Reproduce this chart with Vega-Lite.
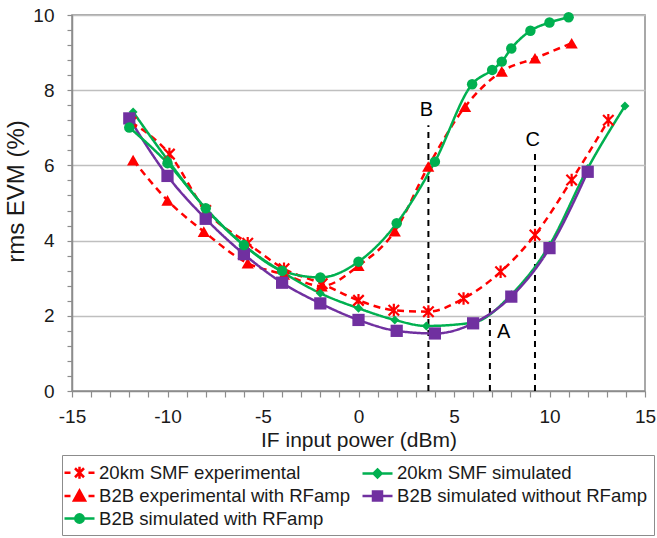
{
  "$schema": "https://vega.github.io/schema/vega-lite/v6.json",
  "width": 573,
  "height": 376,
  "autosize": {"type": "none"},
  "padding": {"left": 72, "top": 15, "right": 12, "bottom": 147},
  "config": {
    "font": "Liberation Sans",
    "view": {"stroke": "#8c8c8c", "strokeWidth": 1.5},
    "axis": {"domainColor": "#8c8c8c", "domainWidth": 1.5, "tickColor": "#8c8c8c", "tickWidth": 1.2, "labelColor": "#1a1a1a", "titleColor": "#1a1a1a", "labelFont": "Liberation Sans", "titleFont": "Liberation Sans", "titleFontWeight": "normal", "labelOverlap": false, "labelFlush": false}
  },
  "datasets": {
    "pts": [
      {"s": "20km SMF experimental", "x": -11.9, "y": 7.15},
      {"s": "20km SMF experimental", "x": -9.9, "y": 6.3},
      {"s": "20km SMF experimental", "x": -8, "y": 4.8},
      {"s": "20km SMF experimental", "x": -5.8, "y": 3.93},
      {"s": "20km SMF experimental", "x": -3.9, "y": 3.25},
      {"s": "20km SMF experimental", "x": -1.9, "y": 2.85},
      {"s": "20km SMF experimental", "x": 0, "y": 2.41},
      {"s": "20km SMF experimental", "x": 1.85, "y": 2.15},
      {"s": "20km SMF experimental", "x": 3.66, "y": 2.11},
      {"s": "20km SMF experimental", "x": 5.5, "y": 2.46},
      {"s": "20km SMF experimental", "x": 7.44, "y": 3.17},
      {"s": "20km SMF experimental", "x": 9.24, "y": 4.15},
      {"s": "20km SMF experimental", "x": 11.16, "y": 5.61},
      {"s": "20km SMF experimental", "x": 13.08, "y": 7.2},
      {"s": "B2B experimental with RFamp", "x": -11.8, "y": 6.14},
      {"s": "B2B experimental with RFamp", "x": -10, "y": 5.07},
      {"s": "B2B experimental with RFamp", "x": -8.1, "y": 4.24},
      {"s": "B2B experimental with RFamp", "x": -5.8, "y": 3.4},
      {"s": "B2B experimental with RFamp", "x": -3.9, "y": 3.1},
      {"s": "B2B experimental with RFamp", "x": -1.93, "y": 2.79},
      {"s": "B2B experimental with RFamp", "x": 0, "y": 3.33},
      {"s": "B2B experimental with RFamp", "x": 1.9, "y": 4.25},
      {"s": "B2B experimental with RFamp", "x": 3.65, "y": 5.97},
      {"s": "B2B experimental with RFamp", "x": 5.58, "y": 7.56},
      {"s": "B2B experimental with RFamp", "x": 7.5, "y": 8.5},
      {"s": "B2B experimental with RFamp", "x": 9.24, "y": 8.85},
      {"s": "B2B experimental with RFamp", "x": 11.16, "y": 9.25},
      {"s": "20km SMF simulated", "x": -11.8, "y": 7.42},
      {"s": "20km SMF simulated", "x": -10, "y": 6.15},
      {"s": "20km SMF simulated", "x": -8, "y": 4.85},
      {"s": "20km SMF simulated", "x": -6, "y": 3.88},
      {"s": "20km SMF simulated", "x": -4, "y": 3.17},
      {"s": "20km SMF simulated", "x": -2, "y": 2.6},
      {"s": "20km SMF simulated", "x": 0, "y": 2.2},
      {"s": "20km SMF simulated", "x": 1.9, "y": 1.89},
      {"s": "20km SMF simulated", "x": 3.55, "y": 1.73},
      {"s": "20km SMF simulated", "x": 6, "y": 1.82},
      {"s": "20km SMF simulated", "x": 8, "y": 2.56},
      {"s": "20km SMF simulated", "x": 10, "y": 3.88},
      {"s": "20km SMF simulated", "x": 12, "y": 5.92},
      {"s": "20km SMF simulated", "x": 13.95, "y": 7.58},
      {"s": "B2B simulated without RFamp", "x": -12, "y": 7.25},
      {"s": "B2B simulated without RFamp", "x": -10, "y": 5.72},
      {"s": "B2B simulated without RFamp", "x": -8, "y": 4.58},
      {"s": "B2B simulated without RFamp", "x": -6, "y": 3.64},
      {"s": "B2B simulated without RFamp", "x": -4, "y": 2.88},
      {"s": "B2B simulated without RFamp", "x": -2, "y": 2.33},
      {"s": "B2B simulated without RFamp", "x": 0, "y": 1.89},
      {"s": "B2B simulated without RFamp", "x": 2, "y": 1.6},
      {"s": "B2B simulated without RFamp", "x": 4, "y": 1.53},
      {"s": "B2B simulated without RFamp", "x": 6, "y": 1.8},
      {"s": "B2B simulated without RFamp", "x": 8, "y": 2.51},
      {"s": "B2B simulated without RFamp", "x": 10, "y": 3.8},
      {"s": "B2B simulated without RFamp", "x": 12, "y": 5.83},
      {"s": "B2B simulated with RFamp", "x": -12, "y": 7.01},
      {"s": "B2B simulated with RFamp", "x": -10, "y": 6.06},
      {"s": "B2B simulated with RFamp", "x": -8, "y": 4.86},
      {"s": "B2B simulated with RFamp", "x": -6, "y": 3.88},
      {"s": "B2B simulated with RFamp", "x": -4, "y": 3.2},
      {"s": "B2B simulated with RFamp", "x": -2, "y": 3.02},
      {"s": "B2B simulated with RFamp", "x": 0, "y": 3.44},
      {"s": "B2B simulated with RFamp", "x": 2, "y": 4.46},
      {"s": "B2B simulated with RFamp", "x": 4, "y": 6.1},
      {"s": "B2B simulated with RFamp", "x": 5.95, "y": 8.16},
      {"s": "B2B simulated with RFamp", "x": 7, "y": 8.54},
      {"s": "B2B simulated with RFamp", "x": 7.5, "y": 8.76},
      {"s": "B2B simulated with RFamp", "x": 8, "y": 9.11},
      {"s": "B2B simulated with RFamp", "x": 9, "y": 9.58},
      {"s": "B2B simulated with RFamp", "x": 10, "y": 9.8},
      {"s": "B2B simulated with RFamp", "x": 11, "y": 9.94}
    ],
    "marks": [
      {"lab": "B", "x": 3.66, "bot": 0, "top": 7.07, "lx": 3.55, "ly": 7.47},
      {"lab": "A", "x": 6.88, "bot": 0, "top": 2.6, "lx": 7.6, "ly": 1.58},
      {"lab": "C", "x": 9.24, "bot": 0, "top": 6.36, "lx": 9.12, "ly": 6.68}
    ]
  },
  "layer": [
    {
      "data": {"name": "marks"},
      "mark": {"type": "rule", "color": "black", "strokeWidth": 2, "strokeDash": [6, 5]},
      "encoding": {
        "x": {"field": "x", "type": "quantitative"},
        "y": {"field": "bot", "type": "quantitative"},
        "y2": {"field": "top"}
      }
    },
    {
      "data": {"name": "marks"},
      "mark": {"type": "text", "color": "black", "fontSize": 20, "font": "Liberation Sans"},
      "encoding": {
        "x": {"field": "lx", "type": "quantitative"},
        "y": {"field": "ly", "type": "quantitative"},
        "text": {"field": "lab", "type": "nominal"}
      }
    },
    {
      "data": {"name": "pts"},
      "mark": {"type": "line", "interpolate": "monotone", "strokeWidth": 2.5},
      "encoding": {
        "x": {
          "field": "x", "type": "quantitative",
          "scale": {"domain": [-15, 15], "nice": false, "zero": false},
          "axis": {
            "title": "IF input power (dBm)",
            "titleFontSize": 21,
            "titlePadding": 3,
            "labelFontSize": 19,
            "labelPadding": 10,
            "labelOverlap": false,
            "labelFlush": false,
            "grid": false,
            "tickSize": 6,
            "tickCount": 200,
            "values": [-15,-14,-13,-12,-11,-10,-9,-8,-7,-6,-5,-4,-3,-2,-1,0,1,2,3,4,5,6,7,8,9,10,11,12,13,14,15],
            "labelExpr": "datum.value % 5 === 0 ? '' + datum.value : ''"
          }
        },
        "y": {
          "field": "y", "type": "quantitative",
          "scale": {"domain": [0, 10], "nice": false},
          "axis": {
            "title": "rms EVM (%)",
            "titleFontSize": 24,
            "titlePadding": 4,
            "titleY": 176,
            "labelFontSize": 19,
            "labelPadding": 13,
            "labelOverlap": false,
            "labelFlush": false,
            "tickSize": 5,
            "tickCount": 200,
            "values": [0,0.4,0.8,1.2,1.6,2,2.4,2.8,3.2,3.6,4,4.4,4.8,5.2,5.6,6,6.4,6.8,7.2,7.6,8,8.4,8.8,9.2,9.6,10],
            "labelExpr": "abs(datum.value - round(datum.value/2)*2) < 0.01 ? '' + round(datum.value) : ''",
            "grid": true,
            "gridColor": "#bfbfbf",
            "gridWidth": 1.5,
            "gridOpacity": {"condition": {"test": "abs(datum.value - round(datum.value/2)*2) < 0.01 && datum.value > 0.1", "value": 1}, "value": 0}
          }
        },
        "color": {
          "field": "s", "type": "nominal", "legend": null,
          "scale": {
            "domain": ["B2B simulated with RFamp", "B2B simulated without RFamp", "B2B experimental with RFamp", "20km SMF simulated", "20km SMF experimental"],
            "range": ["#00b050", "#7030a0", "#ff0000", "#00b050", "#ff0000"]
          }
        },
        "strokeDash": {
          "field": "s", "type": "nominal", "legend": null,
          "scale": {
            "domain": ["B2B simulated without RFamp", "B2B simulated with RFamp", "B2B experimental with RFamp", "20km SMF simulated", "20km SMF experimental"],
            "range": [[1, 0], [1, 0], [7, 5], [1, 0], [7, 5]]
          }
        },
        "order": {"field": "x", "type": "quantitative"}
      }
    },
    {
      "data": {"name": "pts"},
      "transform": [{"filter": "datum.s === '20km SMF experimental'"}],
      "mark": {"type": "point", "shape": "M-1,-1L1,1M-1,1L1,-1M0,-1.2V1.2", "filled": false, "strokeWidth": 2.2, "size": 110, "opacity": 1},
      "encoding": {
        "x": {"field": "x", "type": "quantitative"},
        "y": {"field": "y", "type": "quantitative"},
        "color": {"field": "s", "type": "nominal", "legend": null}
      }
    },
    {
      "data": {"name": "pts"},
      "transform": [{"filter": "datum.s === 'B2B experimental with RFamp'"}],
      "mark": {"type": "point", "shape": "triangle-up", "filled": true, "size": 150, "opacity": 1},
      "encoding": {
        "x": {"field": "x", "type": "quantitative"},
        "y": {"field": "y", "type": "quantitative"},
        "color": {"field": "s", "type": "nominal", "legend": null}
      }
    },
    {
      "data": {"name": "pts"},
      "transform": [{"filter": "datum.s === '20km SMF simulated'"}],
      "mark": {"type": "point", "shape": "diamond", "filled": true, "size": 80, "opacity": 1},
      "encoding": {
        "x": {"field": "x", "type": "quantitative"},
        "y": {"field": "y", "type": "quantitative"},
        "color": {"field": "s", "type": "nominal", "legend": null}
      }
    },
    {
      "data": {"name": "pts"},
      "transform": [{"filter": "datum.s === 'B2B simulated without RFamp'"}],
      "mark": {"type": "point", "shape": "square", "filled": true, "size": 150, "opacity": 1},
      "encoding": {
        "x": {"field": "x", "type": "quantitative"},
        "y": {"field": "y", "type": "quantitative"},
        "color": {"field": "s", "type": "nominal", "legend": null}
      }
    },
    {
      "data": {"name": "pts"},
      "transform": [{"filter": "datum.s === 'B2B simulated with RFamp'"}],
      "mark": {"type": "point", "shape": "circle", "filled": true, "size": 110, "opacity": 1},
      "encoding": {
        "x": {"field": "x", "type": "quantitative"},
        "y": {"field": "y", "type": "quantitative"},
        "color": {"field": "s", "type": "nominal", "legend": null}
      }
    },
    {
      "data": {"name": "pts"},
      "transform": [{"filter": "datum.x > 100"}],
      "mark": {"type": "point", "opacity": 1, "strokeWidth": 2.5},
      "encoding": {
        "x": {"field": "x", "type": "quantitative"},
        "y": {"field": "y", "type": "quantitative"},
        "shape": {
          "field": "s", "type": "nominal",
          "scale": {
            "domain": ["20km SMF experimental", "B2B experimental with RFamp", "B2B simulated with RFamp", "20km SMF simulated", "B2B simulated without RFamp"],
            "range": [
              "M-1.5,0H-0.9M0.9,0H1.5M-0.45,-0.45L0.45,0.45M-0.45,0.45L0.45,-0.45M0,-0.6V0.6",
              "M-1.5,0H-0.9M0.9,0H1.5M0,-0.55L0.55,0.45L-0.55,0.45Z",
              "M-1.5,0H1.5M0.42,0A0.42,0.42 0 1,1 -0.42,0A0.42,0.42 0 1,1 0.42,0Z",
              "M-1.5,0H1.5M0,-0.4L0.4,0L0,0.4L-0.4,0Z",
              "M-1.5,0H1.5M-0.45,-0.45H0.45V0.45H-0.45Z"
            ]
          },
          "legend": {
            "title": null,
            "orient": "none",
            "legendX": -10,
            "legendY": 440,
            "columns": 2,
            "columnPadding": 6,
            "rowPadding": 0.5,
            "padding": 6,
            "strokeColor": "#8c8c8c",
            "fillColor": "white",
            "symbolSize": 400,
            "symbolStrokeWidth": 2.5,
            "symbolOpacity": 1,
            "labelFontSize": 18.6,
            "labelFont": "Liberation Sans",
            "labelColor": "#1a1a1a",
            "labelOffset": 8,
            "labelLimit": 400
          }
        },
        "fill": {
          "field": "s", "type": "nominal",
          "scale": {
            "domain": ["20km SMF experimental", "B2B experimental with RFamp", "B2B simulated with RFamp", "20km SMF simulated", "B2B simulated without RFamp"],
            "range": ["#ff0000", "#ff0000", "#00b050", "#00b050", "#7030a0"]
          },
          "legend": {"title": null, "orient": "none", "legendX": -10, "legendY": 440, "columns": 2}
        },
        "stroke": {
          "field": "s", "type": "nominal",
          "scale": {
            "domain": ["20km SMF experimental", "B2B experimental with RFamp", "B2B simulated with RFamp", "20km SMF simulated", "B2B simulated without RFamp"],
            "range": ["#ff0000", "#ff0000", "#00b050", "#00b050", "#7030a0"]
          },
          "legend": {"title": null, "orient": "none", "legendX": -10, "legendY": 440, "columns": 2}
        }
      }
    }
  ]
}
